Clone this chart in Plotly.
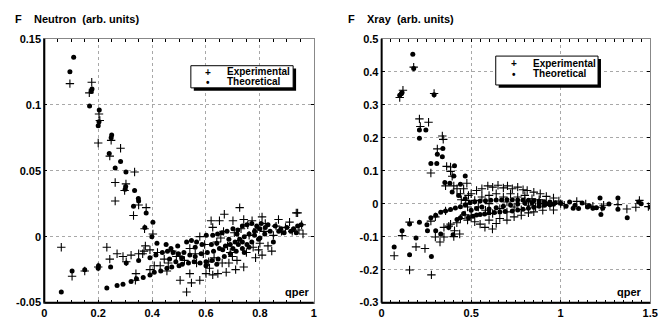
import plotly.graph_objects as go

# ---------------- data ----------------
neutron_th_q = [0.109,0.095,0.174,0.177,0.168,0.204,0.200,0.203,0.248,0.250,0.241,0.283,0.263,0.303,0.300,0.302,0.335,0.350,0.349,0.331,0.378,0.373,0.403,0.399,
    0.063,0.103,0.150,0.200,0.201,0.246,0.232,0.270,0.292,0.322,0.342,0.367,0.392,0.408,0.432,0.455,0.473,0.500,0.512,0.535,0.556,0.578,0.600,0.622,0.645,0.668,0.690,0.712,0.735,0.752,0.770,0.795,0.818,0.838,
    0.304,0.350,0.392,0.414,0.438,0.457,0.478,0.497,0.518,0.540,0.560,0.582,0.605,0.628,0.650,0.672,0.690,0.708,0.725,0.742,0.760,0.780,0.800,
    0.418,0.452,0.470,0.495,0.528,0.546,0.565,0.585,0.601,0.625,0.643,0.660,0.678,0.700,0.718,0.735,0.752,0.770,0.788,0.805,0.830,0.857,0.878,0.900,0.925,0.940,0.953,
    0.640,0.662,0.685,0.700,0.720,0.742,0.760,0.780,0.800,0.820,0.850,0.870,0.890,0.915,0.935,0.620,0.560,0.510,0.488,0.465,0.600,0.640,0.715,0.735]
neutron_th_f = [0.136,0.125,0.110,0.112,0.099,0.096,0.084,0.087,0.075,0.077,0.063,0.057,0.052,0.049,0.036,0.038,0.035,0.027,0.029,0.023,0.018,0.007,0.011,0.000,
    -0.042,-0.026,-0.025,-0.024,-0.022,-0.023,-0.039,-0.037,-0.036,-0.034,-0.032,-0.031,-0.029,-0.027,-0.026,-0.024,-0.023,-0.022,-0.021,-0.020,-0.019,-0.020,-0.019,-0.018,-0.017,-0.015,-0.013,-0.011,-0.009,-0.006,-0.004,-0.002,0.002,0.004,
    -0.020,-0.018,-0.016,-0.014,-0.012,-0.011,-0.012,-0.013,-0.012,-0.014,-0.015,-0.013,-0.012,-0.011,-0.009,-0.007,-0.006,-0.004,-0.002,0.000,0.002,0.004,0.006,
    -0.005,-0.006,-0.009,-0.007,-0.004,-0.003,-0.004,-0.006,0.001,0.001,0.002,0.003,0.004,0.006,0.005,0.008,0.009,0.010,0.008,0.010,0.009,0.008,0.006,0.007,0.006,0.008,0.009,
    -0.005,-0.010,-0.002,-0.009,-0.006,-0.012,-0.008,0.001,-0.001,0.007,-0.004,0.004,0.003,0.004,0.003,-0.006,-0.008,-0.016,-0.019,-0.017,-0.022,-0.021,0.002,-0.004]

neutron_exp_q = [0.095,0.176,0.167,0.203,0.206,0.200,0.248,0.283,0.243,0.335,0.263,0.303,0.298,0.263,0.350,0.378,0.331,0.372,0.403,
    0.063,0.103,0.150,0.200,0.232,0.243,0.270,0.292,0.322,0.350,0.365,0.304,0.340,0.338,0.375,0.392,0.392,0.408,
    0.420,0.430,0.445,0.460,0.475,0.490,0.504,0.504,0.520,0.528,0.540,0.546,0.560,0.565,0.577,0.577,0.590,0.595,0.610,0.613,0.619,0.625,0.630,0.640,0.644,0.650,0.655,0.660,0.668,0.675,0.680,0.690,0.698,0.700,0.705,0.710,0.715,0.720,0.725,0.730,0.740,0.740,0.750,0.760,0.771,0.775,0.784,0.790,0.800,0.808,0.808,0.815,0.820,0.830,0.844,0.850,0.860,0.869,0.880,0.895,0.910,0.920,0.935,0.940,0.945,0.960,0.955,
    0.600,0.625,0.540,0.455,0.370,0.665,0.685,0.755,0.795]
neutron_exp_f = [0.116,0.117,0.109,0.093,0.088,0.071,0.073,0.067,0.061,0.049,0.041,0.040,0.035,0.027,0.024,0.022,0.016,0.006,0.002,
    -0.008,-0.030,-0.026,-0.023,-0.008,-0.017,-0.013,-0.015,-0.014,-0.013,-0.013,-0.019,-0.028,-0.033,-0.007,-0.010,-0.025,-0.022,
    -0.012,-0.022,-0.017,-0.020,-0.011,-0.015,-0.015,-0.033,-0.018,-0.042,-0.009,-0.035,-0.013,-0.020,-0.033,0.000,-0.013,-0.006,-0.019,-0.024,0.012,0.007,-0.016,-0.004,-0.028,0.012,-0.001,-0.020,0.017,-0.027,-0.007,-0.012,-0.015,0.012,0.003,-0.025,-0.018,-0.003,0.022,0.006,0.013,-0.023,-0.012,0.001,0.012,-0.008,-0.016,0.006,-0.005,0.015,-0.014,0.004,0.010,-0.007,-0.011,0.001,0.008,0.013,0.004,0.007,0.011,0.004,0.018,0.018,0.005,0.002,0.009,
    -0.028,-0.029,-0.028,-0.026,-0.011,0.004,-0.020,0.009,-0.010]

xray_th_q = [0.174,0.179,0.101,0.114,0.110,0.293,0.211,0.247,0.211,0.275,0.308,0.311,0.339,0.342,0.407,0.353,0.381,0.403,0.467,0.440,0.394,0.430,0.467,
    0.070,0.156,0.278,0.156,0.211,0.192,0.114,0.253,0.275,0.302,0.330,0.357,0.385,0.412,0.440,0.467,0.494,0.520,0.550,0.580,0.610,0.640,0.670,0.700,0.730,0.760,0.790,0.820,0.850,0.880,0.910,0.940,0.970,1.000,
    0.256,0.302,0.330,0.375,0.399,0.421,0.440,0.458,0.485,0.510,0.530,0.550,0.575,0.600,0.630,0.660,0.690,0.730,0.760,0.790,0.820,0.850,0.880,0.910,0.940,
    0.500,0.530,0.560,0.600,0.640,0.680,0.720,0.760,0.800,0.840,0.880,0.920,0.960,
    1.070,1.100,1.150,1.180,1.235,1.270,1.220,1.225,1.320,1.320,1.372,1.436,1.450,1.500,1.080,1.050,1.030,1.120,1.160,1.200]
xray_th_f = [0.453,0.410,0.329,0.337,0.333,0.330,0.223,0.223,0.198,0.122,0.122,0.150,0.142,0.167,0.115,0.064,0.062,0.084,0.084,0.059,0.035,0.025,0.015,
    -0.131,-0.155,-0.160,-0.062,-0.056,-0.104,-0.082,-0.064,-0.043,-0.035,-0.026,-0.022,-0.018,-0.013,-0.009,-0.003,0.003,0.006,0.008,0.009,0.010,0.011,0.011,0.012,0.012,0.011,0.011,0.010,0.009,0.008,0.006,0.005,0.003,0.001,
    -0.082,-0.082,-0.092,-0.072,-0.094,-0.048,-0.043,-0.030,-0.043,-0.038,-0.034,-0.033,-0.031,-0.028,-0.027,-0.025,-0.024,-0.022,-0.019,-0.017,-0.014,-0.011,-0.008,-0.005,-0.003,
    -0.020,-0.015,-0.010,-0.016,-0.012,-0.008,-0.004,-0.001,0.002,0.003,0.001,0.000,-0.002,
    -0.014,-0.015,-0.010,-0.014,-0.014,-0.001,0.017,-0.033,0.017,-0.017,-0.043,0.005,0.000,-0.010,-0.005,0.005,-0.008,0.002,-0.006,-0.012]

xray_exp_q = [0.179,0.101,0.119,0.293,0.211,0.216,0.262,0.339,0.344,0.311,0.275,0.363,0.385,0.385,0.394,0.357,0.403,0.421,0.476,0.458,0.440,0.485,0.470,0.445,
    0.070,0.114,0.156,0.192,0.242,0.278,0.156,0.275,0.300,0.326,0.348,0.375,0.348,0.407,0.403,0.436,0.385,0.420,0.300,0.357,0.440,0.466,0.480,0.500,0.520,0.550,0.577,0.600,0.619,0.640,0.660,0.700,0.740,0.780,0.820,0.850,0.900,0.960,
    0.500,0.530,0.560,0.593,0.620,0.650,0.680,0.703,0.730,0.760,0.790,0.813,0.850,0.886,0.920,0.960,0.990,
    0.520,0.560,0.600,0.640,0.680,0.720,0.760,0.800,0.840,0.880,0.540,0.580,0.620,0.660,0.700,0.740,0.780,0.820,0.860,0.900,0.940,0.480,0.600,0.700,0.800,
    1.000,1.020,1.090,1.140,1.230,1.240,1.320,1.370,1.420,1.440,1.490,1.180]
xray_exp_f = [0.414,0.322,0.344,0.334,0.257,0.234,0.247,0.205,0.195,0.166,0.093,0.113,0.111,0.098,0.083,0.054,0.054,0.045,0.062,0.045,0.030,0.025,0.010,0.012,
    -0.158,-0.097,-0.201,-0.131,-0.136,-0.216,-0.056,-0.053,-0.101,-0.116,-0.072,-0.068,-0.101,-0.082,-0.100,-0.092,-0.062,-0.058,-0.040,-0.022,-0.045,-0.034,-0.050,-0.035,-0.055,-0.062,-0.072,-0.050,-0.077,-0.060,-0.045,-0.050,-0.040,-0.035,-0.028,-0.025,-0.020,-0.019,
    0.030,0.040,0.045,0.054,0.050,0.056,0.048,0.054,0.045,0.050,0.042,0.040,0.035,0.030,0.022,0.017,0.008,
    0.010,0.020,0.025,0.030,0.020,0.030,0.020,0.025,0.015,0.012,-0.010,-0.020,-0.030,-0.015,-0.025,-0.010,-0.018,-0.005,-0.010,0.000,-0.005,-0.010,0.000,0.005,0.008,
    0.000,-0.005,0.007,-0.001,-0.011,-0.005,-0.003,-0.016,-0.011,0.010,-0.009,-0.008]

neutron_xticks = [0, 0.2, 0.4, 0.6, 0.8, 1]
neutron_xlabels = ["0", "0.2", "0.4", "0.6", "0.8", "1"]
neutron_yticks = [-0.05, 0, 0.05, 0.1, 0.15]
neutron_ylabels = ["-0.05", "0", "0.05", "0.1", "0.15"]
xray_xticks = [0, 0.5, 1, 1.5]
xray_xlabels = ["0", "0.5", "1", "1.5"]
xray_yticks = [-0.3, -0.2, -0.1, 0, 0.1, 0.2, 0.3, 0.4, 0.5]
xray_ylabels = ["-0.3", "-0.2", "-0.1", "0", "0.1", "0.2", "0.3", "0.4", "0.5"]

# ---------------- figure ----------------
W, H = 667, 325
FONT = "Liberation Sans"

def px(x):
    return x / W

def py(y):
    return 1 - y / H

cross = dict(symbol="cross-thin-open", size=6, color="black", line=dict(width=1.1, color="black"))
dot = dict(symbol="circle", size=5, color="black", line=dict(width=0))

fig = go.Figure()
fig.add_trace(go.Scatter(x=neutron_exp_q, y=neutron_exp_f, mode="markers", marker=cross,
                         name="Experimental", xaxis="x", yaxis="y", showlegend=False))
fig.add_trace(go.Scatter(x=neutron_th_q, y=neutron_th_f, mode="markers", marker=dot,
                         name="Theoretical", xaxis="x", yaxis="y", showlegend=False))
fig.add_trace(go.Scatter(x=xray_exp_q, y=xray_exp_f, mode="markers", marker=cross,
                         name="Experimental", xaxis="x2", yaxis="y2", showlegend=False))
fig.add_trace(go.Scatter(x=xray_th_q, y=xray_th_f, mode="markers", marker=dot,
                         name="Theoretical", xaxis="x2", yaxis="y2", showlegend=False))

tickfont = dict(family=FONT, size=11, color="black", weight="bold")
common = dict(showgrid=True, gridcolor="#a8a8a8", griddash="dot", gridwidth=1,
              zeroline=False, showline=True, linecolor="#888888", linewidth=1,
              mirror="ticks", ticks="inside", ticklen=3, tickcolor="black",
              tickfont=tickfont, fixedrange=True)

ydom = [py(308), py(34)]
fig.update_layout(
    width=W, height=H, margin=dict(l=0, r=0, t=0, b=0),
    paper_bgcolor="white", plot_bgcolor="white",
    xaxis=dict(domain=[px(42), px(316)], range=[0, 1], anchor="y",
               tickvals=neutron_xticks, ticktext=neutron_xlabels,
               minor=dict(dtick=0.05, ticks="inside", ticklen=3, tickcolor="black", showgrid=False), **common),
    yaxis=dict(domain=ydom, range=[-0.05, 0.15], anchor="x",
               tickvals=neutron_yticks, ticktext=neutron_ylabels, **common),
    xaxis2=dict(domain=[px(385), px(658)], range=[0, 1.5], anchor="y2",
                tickvals=xray_xticks, ticktext=xray_xlabels,
                minor=dict(dtick=0.05, ticks="inside", ticklen=3, tickcolor="black", showgrid=False), **common),
    yaxis2=dict(domain=ydom, range=[-0.3, 0.5], anchor="x2",
                tickvals=xray_yticks, ticktext=xray_ylabels, **common),
)

shapes = []
# heavy left / bottom axis lines
for x0, x1 in [(42, 316), (385, 658)]:
    shapes.append(dict(type="line", xref="paper", yref="paper", x0=px(x0), x1=px(x0), y0=py(308), y1=py(34),
                       line=dict(color="black", width=2)))
    shapes.append(dict(type="line", xref="paper", yref="paper", x0=px(x0), x1=px(x1), y0=py(308), y1=py(308),
                       line=dict(color="black", width=2)))
# legend boxes with drop shadow
for (bx0, by0, bx1, by1) in [(191, 62, 295, 85), (501, 52, 605, 82)]:
    shapes.append(dict(type="rect", xref="paper", yref="paper", x0=px(bx0 + 3), x1=px(bx1 + 3),
                       y0=py(by1 + 3), y1=py(by0 + 3), fillcolor="black", line=dict(width=0)))
    shapes.append(dict(type="rect", xref="paper", yref="paper", x0=px(bx0), x1=px(bx1),
                       y0=py(by1), y1=py(by0), fillcolor="white", line=dict(color="black", width=1)))
fig.update_layout(shapes=shapes)

def ann(text, x, y, xanchor="left", size=11):
    return dict(text=text, x=px(x), y=py(y), xref="paper", yref="paper", xanchor=xanchor,
                yanchor="middle", showarrow=False,
                font=dict(family=FONT, size=size, color="black", weight="bold"))

annotations = [
    ann("F&nbsp;&nbsp;&nbsp;&nbsp;Neutron&nbsp;&nbsp;(arb. units)", 10, 13),
    ann("F&nbsp;&nbsp;&nbsp;&nbsp;Xray&nbsp;&nbsp;(arb. units)", 349, 13),
    ann("qper", 314, 297, xanchor="right"),
    ann("qper", 652, 297, xanchor="right"),
    # legend of left panel
    ann("+", 208, 69, xanchor="center", size=10),
    ann("\u2022", 208, 79, xanchor="center", size=10),
    ann("Experimental", 226, 68.5, size=10),
    ann("Theoretical", 226, 78.5, size=10),
    # legend of right panel
    ann("+", 520, 60, xanchor="center", size=10),
    ann("\u2022", 520, 71, xanchor="center", size=10),
    ann("Experimental", 537, 59.5, size=10),
    ann("Theoretical", 537, 70.5, size=10),
]
fig.update_layout(annotations=annotations)

fig.write_html("out.html", config={"displayModeBar": False},
               post_script="document.body.style.margin='0px';document.body.style.overflow='hidden';")
